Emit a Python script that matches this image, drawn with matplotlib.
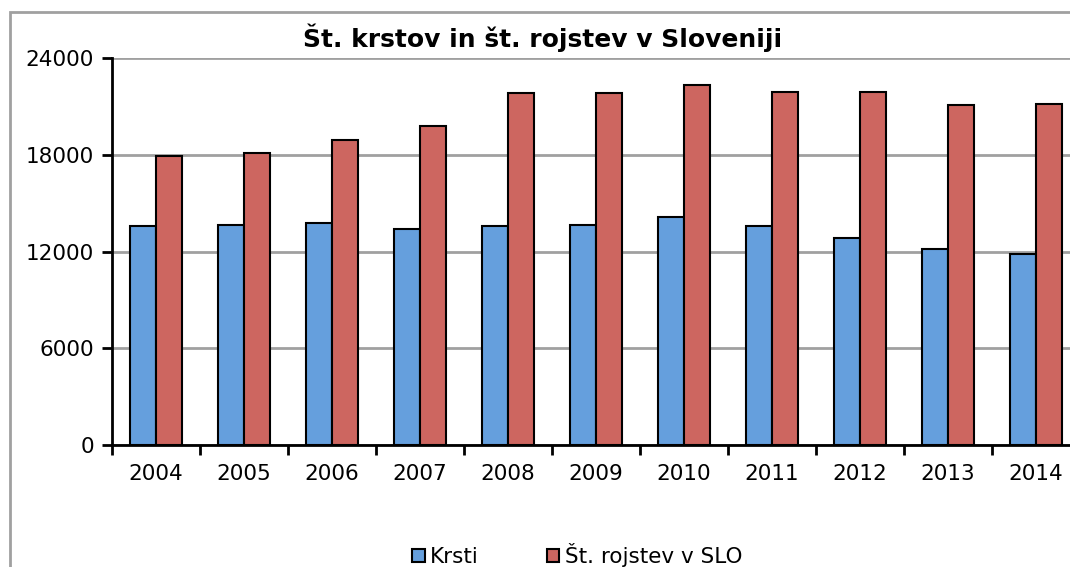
import matplotlib.pyplot as plt
import numpy as np
from matplotlib.patches import Rectangle

years = ['2004', '2005', '2006', '2007', '2008', '2009', '2010', '2011', '2012', '2013', '2014']
krsti = [13600, 13660, 13750, 13420, 13580, 13620, 14160, 13600, 12820, 12150, 11870]
rojstva = [17920, 18130, 18920, 19780, 21810, 21850, 22330, 21890, 21890, 21080, 21170]

blue = '#659fdd'
red = '#cd6660'

fig = plt.figure(figsize=(10.7, 5.67), dpi=100)
# outer chart border (grey), cut off on right and bottom like the original
fig.patches.append(Rectangle((10 / 1070, -0.1), 1.2, 1 - 12 / 567 + 0.1,
                             transform=fig.transFigure, fill=False,
                             edgecolor='#a0a0a0', linewidth=2))

ax = fig.add_axes([112 / 1070, 1 - 445 / 567, 968 / 1070, 387 / 567])
x = np.arange(len(years))
w = 0.29
ax.bar(x - w / 2, krsti, w, color=blue, edgecolor='black', linewidth=1.5, label='Krsti', zorder=3)
ax.bar(x + w / 2, rojstva, w, color=red, edgecolor='black', linewidth=1.5, label='Št. rojstev v SLO', zorder=3)

ax.set_xlim(-0.5, len(years) - 0.5)
ax.set_ylim(0, 24000)
ax.set_yticks([0, 6000, 12000, 18000, 24000])
ax.set_xticks(x)
ax.set_xticklabels(years, fontsize=15.5)
ax.set_xticks(np.arange(-0.5, len(years)), minor=True)
ax.tick_params(axis='x', which='major', length=0, pad=14)
ax.tick_params(axis='x', which='minor', length=7, width=2, direction='out')
ax.tick_params(axis='y', labelsize=15.5, length=7, width=2, direction='out', pad=6)
ax.grid(axis='y', color='#a0a0a0', linewidth=2, zorder=0)
ax.set_axisbelow(True)
for s in ['top', 'right']:
    ax.spines[s].set_visible(False)
ax.spines['left'].set_linewidth(2)
ax.spines['bottom'].set_linewidth(2)
ax.spines['bottom'].set_zorder(4)

fig.text(543 / 1070, 1 - 38 / 567, 'Št. krstov in št. rojstev v Sloveniji',
         ha='center', va='center', fontsize=18, fontweight='bold')

fig.legend(loc='center', bbox_to_anchor=(577 / 1070, 1 - 555 / 567), ncol=2,
           frameon=False, fontsize=15.5, handlelength=0.6, handleheight=0.6,
           handletextpad=0.25, columnspacing=3.15)

fig.savefig('out.png', dpi=100)
